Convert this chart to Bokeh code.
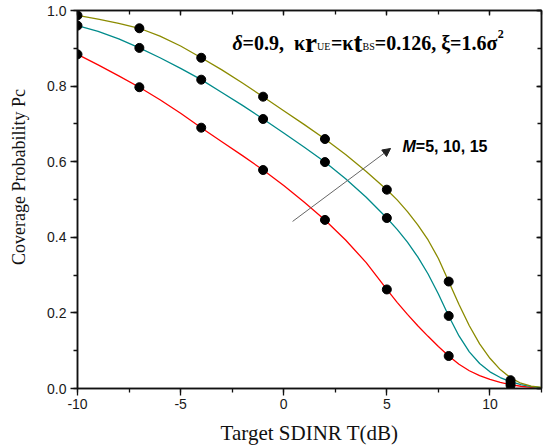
import math
from bokeh.plotting import figure
from bokeh.models import (Range1d, LinearAxis, Label, Arrow, NormalHead,
                          SingleIntervalTicker, NumeralTickFormatter, CustomJSTickFormatter)
from bokeh.embed import file_html
from bokeh.resources import INLINE

# ---------------- data ----------------
T_marker = [-10, -7, -4, -1, 2, 5, 8, 11]
pc_m15 = [0.987, 0.953, 0.875, 0.772, 0.660, 0.526, 0.283, 0.022]
pc_m10 = [0.960, 0.901, 0.817, 0.713, 0.599, 0.451, 0.192, 0.015]
pc_m5 = [0.884, 0.797, 0.690, 0.578, 0.446, 0.262, 0.086, 0.008]

T_curve = [-10, -9, -8, -7, -6, -5, -4, -3, -2, -1, 0, 1, 2, 3, 4, 5,
           5.5, 6, 6.5, 7, 7.5, 8, 8.5, 9, 9.5, 10, 10.5, 11, 11.5, 12, 12.5]
curve_m15 = [0.987, 0.977, 0.966, 0.953, 0.932, 0.906, 0.875, 0.843, 0.808, 0.772,
             0.735, 0.698, 0.660, 0.619, 0.574, 0.526,
             0.499, 0.468, 0.433, 0.393, 0.344, 0.283, 0.222, 0.166, 0.118, 0.080,
             0.050, 0.028, 0.014, 0.006, 0.003]
curve_m10 = [0.960, 0.945, 0.925, 0.901, 0.875, 0.847, 0.817, 0.783, 0.749, 0.713,
             0.676, 0.638, 0.599, 0.555, 0.506, 0.451,
             0.421, 0.387, 0.348, 0.303, 0.250, 0.192, 0.139, 0.097, 0.066, 0.044,
             0.029, 0.018, 0.010, 0.005, 0.002]
curve_m5 = [0.884, 0.856, 0.827, 0.797, 0.764, 0.728, 0.690, 0.653, 0.616, 0.578,
            0.537, 0.493, 0.446, 0.393, 0.333, 0.262,
            0.228, 0.196, 0.166, 0.138, 0.111, 0.086, 0.064, 0.047, 0.034, 0.024,
            0.016, 0.010, 0.006, 0.003, 0.001]

series = [
    ("M=5", curve_m5, pc_m5, "#ff0000"),
    ("M=10", curve_m10, pc_m10, "#008b8b"),
    ("M=15", curve_m15, pc_m15, "#8b8b00"),
]

x_label = "Target SDINR T(dB)"
y_label = "Coverage Probability Pc"

# ---------------- figure ----------------
p = figure(width=545, height=447, output_backend="svg", toolbar_location=None,
           x_range=Range1d(-10, 12.5), y_range=Range1d(0, 1),
           min_border_left=77, min_border_right=4, min_border_top=10,
           min_border_bottom=59)
p.grid.visible = False
p.background_fill_color = "white"
p.border_fill_color = "white"
p.outline_line_color = "#111111"
p.outline_line_width = 1.5

xt = SingleIntervalTicker(interval=5, num_minor_ticks=2)
yt = SingleIntervalTicker(interval=0.2, num_minor_ticks=2)

SERIF = "Liberation Serif"

def style(ax, ticker, out=True):
    ax.ticker = ticker
    ax.axis_line_color = "#111111"
    ax.axis_line_width = 1.5
    ax.major_tick_line_color = "#111111"
    ax.minor_tick_line_color = "#111111"
    ax.major_tick_line_width = 1.3
    ax.minor_tick_line_width = 1.3
    if out:
        ax.major_tick_out = 7
        ax.major_tick_in = 0
        ax.minor_tick_out = 4
        ax.minor_tick_in = 0
    else:
        ax.major_tick_out = 0
        ax.major_tick_in = 5
        ax.minor_tick_out = 0
        ax.minor_tick_in = 4
    ax.major_label_text_font = "Liberation Sans"
    ax.major_label_text_font_size = "14px"
    ax.major_label_text_color = "#1a1a1a"

style(p.xaxis[0], xt)
style(p.yaxis[0], yt)
p.xaxis[0].major_label_standoff = 3
p.yaxis[0].major_label_standoff = 4
p.xaxis[0].formatter = NumeralTickFormatter(format="0")
p.yaxis[0].formatter = NumeralTickFormatter(format="0.0")

# leading no-break spaces shift the (centred) y title upwards as in the reference
for ax, txt, so, fs in ((p.xaxis[0], x_label, 9, "21px"),
                        (p.yaxis[0], "\u00a0" * 10 + y_label, 15, "18px")):
    ax.axis_label = txt
    ax.axis_label_text_font = SERIF
    ax.axis_label_text_font_size = fs
    ax.axis_label_text_font_style = "normal"
    ax.axis_label_text_color = "#111111"
    ax.axis_label_standoff = so

for loc, tk in (("above", xt), ("right", yt)):
    ax = LinearAxis(formatter=CustomJSTickFormatter(code="return ''"))
    style(ax, tk, out=False)
    ax.major_label_standoff = 0
    p.add_layout(ax, loc)

# ---------------- curves and markers ----------------
for name, cv, mk, col in series:
    p.line(T_curve, cv, line_color=col, line_width=1.3)
for name, cv, mk, col in series:
    p.scatter(T_marker, mk, size=9, marker="circle", fill_color="black",
              line_color="black")

# ---------------- annotations ----------------
p.add_layout(Arrow(x_start=0.43, y_start=0.442, x_end=5.18, y_end=0.635,
                   line_color="#666666", line_width=1,
                   end=NormalHead(size=8, fill_color="#222222", line_color="#222222")))

# approximate Times / Arial advance widths (per 1000 em) for layout of rich text
W_SERIF = {'C': 667, 'o': 500, 'v': 500, 'e': 444, 'r': 333, 'a': 444, 'g': 500, ' ': 250,
           'P': 556, 'b': 500, 'i': 278, 'l': 278, 't': 278, 'y': 500, 'T': 611, 'S': 556,
           'D': 722, 'I': 333, 'N': 722, 'R': 667, '(': 333, ')': 333, 'd': 500, 'B': 667,
           'c': 444, 'U': 722, 'E': 667}
W_BOLD = {'=': 570, '.': 250, ',': 250, ' ': 250, '\u00a0': 250, 'r': 444, 't': 333,
          'U': 722, 'E': 667, 'B': 667, 'S': 556, 'δ': 500, 'κ': 560, 'ξ': 450, 'σ': 560}

def width(text, size, table):
    return sum(table.get(ch, 500) for ch in text) * size / 1000.0

def rich(pieces, x0, y0):
    """pieces: (text, size, font, style, table, shift) placed along a baseline
    (screen units relative to the plot frame)."""
    s = 0.0
    for text, size, font, fstyle, table, shift in pieces:
        p.add_layout(Label(x=x0 + s, y=y0 + shift, x_units="screen", y_units="screen",
                           text=text, text_font=font, text_font_size=f"{size}px",
                           text_font_style=fstyle, text_color="black",
                           text_align="left", text_baseline="alphabetic"))
        s += width(text, size, table)

# title line
rich([
    ("δ", 20, SERIF, "bold italic", W_BOLD, 0),
    ("=0.9,\u00a0\u00a0κ", 20, SERIF, "bold", W_BOLD, 0),
    ("r", 27, SERIF, "bold", W_BOLD, 0),
    ("UE", 10, SERIF, "normal", W_SERIF, -4),
    ("=κ", 20, SERIF, "bold", W_BOLD, 0),
    ("t", 27, SERIF, "bold", W_BOLD, 0),
    ("BS", 10, SERIF, "normal", W_SERIF, -4),
    ("=0.126, ξ=1.6σ", 20, SERIF, "bold", W_BOLD, 0),
    ("2", 12, SERIF, "bold", W_BOLD, 9),
], 155, 346)

# parameter label
rich([
    ("M", 16, "Liberation Sans", "bold italic", {'M': 833}, 0),
    ("=5, 10, 15", 16, "Liberation Sans", "bold", {}, 0),
], 325, 242)

open("out.html", "w").write(file_html(p, INLINE))
